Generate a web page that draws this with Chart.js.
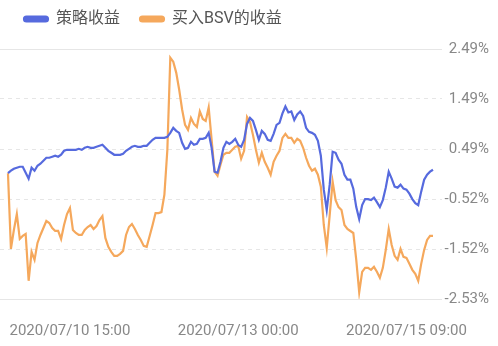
<!DOCTYPE html>
<html>
<head>
<meta charset="utf-8">
<script src="https://cdn.jsdelivr.net/npm/chart.js@4.4.0/dist/chart.umd.min.js"></script>
<style>
  html, body { margin: 0; padding: 0; background: #fff; }
  #wrap { width: 498px; height: 346px; }
</style>
</head>
<body>
<div id="wrap"><canvas id="myChart"></canvas></div>
<script>
// hourly points, 2020/07/09 18:00 -> 2020/07/15 18:00
var startDay = 9;
var startHour = 18;
var pointCount = 145;

var strategy = [
    0, 0.05, 0.09, 0.11, 0.13, 0.13, 0.01, -0.11, 0.11, 0.05,
    0.15, 0.19, 0.25, 0.31, 0.31, 0.33, 0.35, 0.33, 0.37, 0.45,
    0.47, 0.47, 0.47, 0.47, 0.49, 0.47, 0.51, 0.53, 0.51, 0.51,
    0.53, 0.55, 0.57, 0.51, 0.45, 0.41, 0.37, 0.37, 0.37, 0.39,
    0.45, 0.49, 0.53, 0.55, 0.53, 0.53, 0.55, 0.55, 0.61, 0.67,
    0.71, 0.71, 0.71, 0.71, 0.73, 0.81, 0.91, 0.85, 0.81, 0.61,
    0.49, 0.51, 0.63, 0.57, 0.59, 0.69, 0.69, 0.71, 0.81, 0.51,
    0.03, 0.01, 0.23, 0.51, 0.63, 0.59, 0.63, 0.69, 0.57, 0.53,
    0.67, 0.99, 1.11, 1.05, 0.87, 0.67, 0.85, 0.79, 0.67, 0.65,
    0.79, 0.97, 1.01, 1.20, 1.34, 1.22, 1.24, 1.07, 1.18, 1.24,
    1.15, 0.91, 0.83, 0.81, 0.77, 0.65, 0.35, -0.33, -0.74, -0.23,
    0.43, 0.41, 0.27, 0.19, -0.03, -0.13, -0.13, -0.31, -0.68, -0.92,
    -0.64, -0.52, -0.52, -0.54, -0.49, -0.58, -0.68, -0.54, -0.29, 0.03,
    -0.11, -0.27, -0.29, -0.23, -0.31, -0.33, -0.41, -0.52, -0.60, -0.64,
    -0.37, -0.13, -0.03, 0.03, 0.07
];

var buyBsv = [
    0, -1.52, -1.14, -0.82, -1.32, -1.26, -1.22, -2.16, -1.58, -1.74,
    -1.40, -1.24, -1.10, -0.96, -1.00, -1.10, -1.16, -1.16, -1.32, -1.04,
    -0.82, -0.70, -1.14, -1.20, -1.24, -1.24, -1.14, -1.08, -1.04, -1.12,
    -1.06, -0.94, -0.86, -1.30, -1.48, -1.58, -1.66, -1.66, -1.62, -1.56,
    -1.24, -1.08, -1.02, -1.12, -1.24, -1.34, -1.46, -1.48, -1.26, -1.04,
    -0.80, -0.80, -0.78, -0.43, 0.47, 2.32, 2.24, 2.02, 1.68, 1.28,
    0.97, 0.87, 1.11, 0.99, 0.93, 1.24, 1.09, 1.05, 1.32, 0.67,
    0.03, -0.05, 0.17, 0.37, 0.41, 0.41, 0.47, 0.53, 0.55, 0.29,
    0.45, 1.13, 1.03, 0.77, 0.47, 0.21, 0.41, 0.23, 0.11, -0.03,
    0.23, 0.35, 0.45, 0.71, 0.79, 0.71, 0.71, 0.61, 0.69, 0.65,
    0.51, 0.31, 0.15, 0.05, 0.09, -0.03, -0.27, -1.04, -1.50, -0.84,
    -0.17, -0.54, -0.68, -0.74, -1.04, -1.12, -1.16, -1.20, -1.74, -2.39,
    -1.98, -1.90, -1.90, -1.94, -1.88, -1.98, -2.10, -1.90, -1.54, -1.12,
    -1.44, -1.66, -1.74, -1.52, -1.68, -1.70, -1.82, -1.94, -2.02, -2.16,
    -1.82, -1.54, -1.34, -1.26, -1.26
];

var xTickIndex = [21, 78, 135];
var yTickValues = [-2.526, -1.522, -0.518, 0.486, 1.49, 2.494];
var yTickLabels = ['-2.53%', '-1.52%', '-0.52%', '0.49%', '1.49%', '2.49%'];

function pad(n) { return n < 10 ? '0' + n : '' + n; }
var labels = [];
for (let i = 0; i < pointCount; i++) {
    var h = startHour + i;
    labels.push('2020/07/' + pad(startDay + Math.floor(h / 24)) + ' ' + pad(h % 24) + ':00');
}

var blue = 'rgb(86, 106, 222)';
var orange = 'rgb(245, 168, 92)';
var fontFamily = "Roboto, 'Noto Sans CJK SC', sans-serif";

// legenda: altura fixa e desenho deslocado
var legendTweak = {
    id: 'legendTweak',
    beforeInit: function (chart) {
        var lg = chart.legend;
        var fit = lg.fit;
        lg.fit = function () {
            fit.bind(lg)();
            this.height = 49;
        };
        var draw = lg.draw;
        lg.draw = function () {
            chart.ctx.save();
            chart.ctx.translate(4, -9);
            draw.apply(lg, arguments);
            chart.ctx.restore();
        };
    }
};

let ctx = document.getElementById('myChart').getContext('2d');
let myChart = new Chart(ctx, {
    type: 'line',
    data: {
        datasets: [{
            label: '策略收益',
            data: strategy.map((v, i) => ({ x: i, y: v })),
            borderColor: blue,
            backgroundColor: blue,
            borderWidth: 2.2,
            pointRadius: 0,
            tension: 0
        }, {
            label: '买入BSV的收益',
            data: buyBsv.map((v, i) => ({ x: i, y: v })),
            borderColor: orange,
            backgroundColor: orange,
            borderWidth: 2.2,
            pointRadius: 0,
            tension: 0
        }]
    },
    plugins: [legendTweak],
    options: {
        responsive: true,
        maintainAspectRatio: false,
        animation: false,
        layout: { padding: { left: 0, right: 9, top: 0, bottom: 0 } },
        plugins: {
            tooltip: { enabled: false },
            legend: {
                position: 'top',
                align: 'start',
                labels: {
                    boxWidth: 24,
                    boxHeight: 5,
                    useBorderRadius: true,
                    borderRadius: 2.5,
                    padding: 20,
                    color: '#555',
                    font: { size: 16, family: fontFamily }
                }
            }
        },
        scales: {
            x: {
                type: 'linear',
                min: -2.7,
                max: 147.05,
                grid: { display: false },
                border: { display: false },
                afterBuildTicks: function (scale) {
                    scale.ticks = xTickIndex.map(v => ({ value: v }));
                },
                afterFit: function (scale) {
                    scale.height = 47;
                    scale.paddingLeft = 0;
                    scale.paddingRight = 0;
                },
                ticks: {
                    autoSkip: false,
                    maxRotation: 0,
                    padding: 15,
                    color: '#888',
                    font: { size: 15, family: fontFamily },
                    callback: function (value) { return labels[value]; }
                }
            },
            y: {
                position: 'right',
                min: yTickValues[0],
                max: yTickValues[yTickValues.length - 1],
                afterBuildTicks: function (scale) {
                    scale.ticks = yTickValues.map(v => ({ value: v }));
                },
                afterFit: function (scale) {
                    scale.width = 47;
                },
                grid: {
                    color: '#e6e6e6',
                    lineWidth: 1,
                    drawTicks: false
                },
                border: {
                    display: false,
                    dash: function (c) {
                        if (c.index === 0 || c.index === yTickValues.length - 1) return [];
                        return [4, 4];
                    }
                },
                ticks: {
                    padding: 0,
                    crossAlign: 'far',
                    color: '#888',
                    font: { size: 15, family: fontFamily },
                    callback: function (value, index) { return yTickLabels[index]; }
                }
            }
        }
    }
});
</script>
</body>
</html>
